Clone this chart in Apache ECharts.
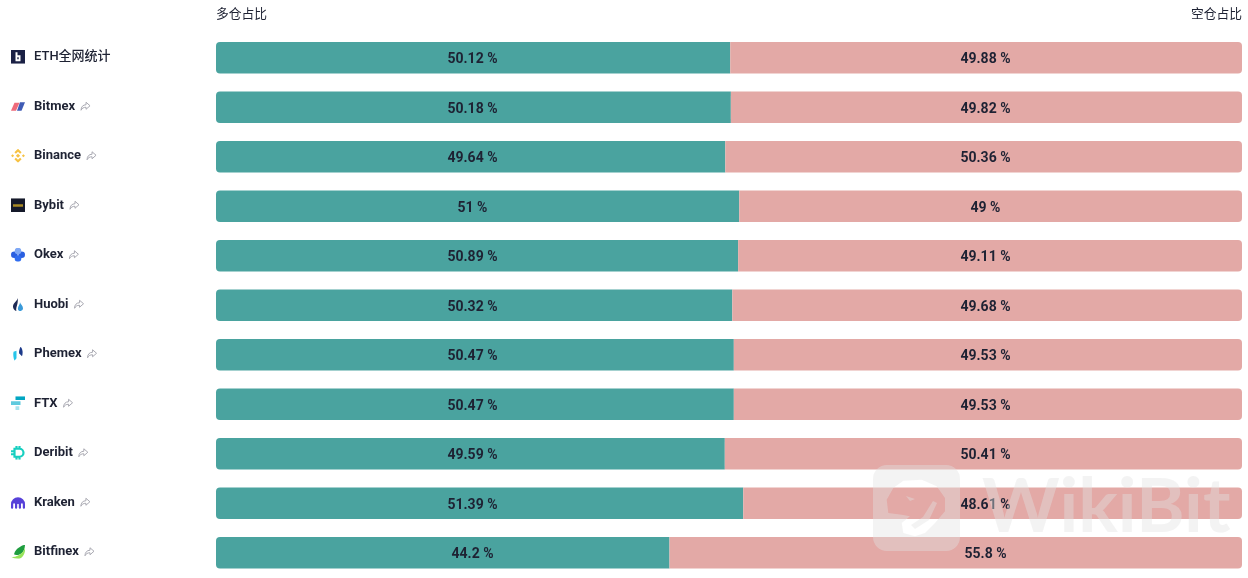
<!DOCTYPE html>
<html>
<head>
<meta charset="utf-8">
<style>html,body{margin:0;padding:0;background:#fff}#main{width:1248px;height:578px}</style>
<script src="https://cdn.jsdelivr.net/npm/echarts@6/dist/echarts.min.js"></script>
</head>
<body>
<div id="main"></div>
<script>
var exchanges = ['ETH全网统计', 'Bitmex', 'Binance', 'Bybit', 'Okex', 'Huobi', 'Phemex', 'FTX', 'Deribit', 'Kraken', 'Bitfinex'];
var longShare = [50.12, 50.18, 49.64, 51, 50.89, 50.32, 50.47, 50.47, 49.59, 51.39, 44.2];
var shortShare = [49.88, 49.82, 50.36, 49, 49.11, 49.68, 49.53, 49.53, 50.41, 48.61, 55.8];
var longTitle = '多仓占比';
var shortTitle = '空仓占比';

function svgUri(body, w, h) {
  var s = '<svg xmlns="http://www.w3.org/2000/svg" width="' + w + '" height="' + h + '" viewBox="0 0 ' + w + ' ' + h + '">' + body + '</svg>';
  return 'data:image/svg+xml;charset=utf-8,' + encodeURIComponent(s);
}

// 交易所小图标
var icons = [
  '<rect width="14" height="14" fill="#1a2045"/><path d="M4.500 2.500h2v3H9.500v6h-5z" fill="#fff"/><rect x="6.300" y="7.500" width="1.400" height="2" fill="#1a2045"/>',
  '<path d="M0 11.500L3.500 3.500h5L5 11.500z" fill="#ee6b7a"/><path d="M9 3h5l-3.500 8.500H6z" fill="#3f5bb5"/>',
  '<g fill="#f7c244"><path d="M7 0l3.600 3.600-1.500 1.500L7 3 4.900 5.100 3.400 3.600z"/><path d="M7 14l3.600-3.600-1.500-1.500L7 11 4.900 8.900 3.400 10.400z"/><rect x="5.500" y="5.500" width="3" height="3" transform="rotate(45 7 7)"/><rect x="0.500" y="5.900" width="2.200" height="2.200" transform="rotate(45 1.600 7)"/><rect x="11.300" y="5.900" width="2.200" height="2.200" transform="rotate(45 12.400 7)"/></g>',
  '<rect width="14" height="14" fill="#15192a"/><rect x="2" y="6" width="10" height="2.400" fill="#a98a25"/>',
  '<g><circle cx="3.300" cy="7" r="3.300" fill="#2a5fe0"/><circle cx="10.700" cy="7" r="3.300" fill="#2a5fe0"/><circle cx="7" cy="10.700" r="3.300" fill="#2f6cf0"/><circle cx="7" cy="3.300" r="3.300" fill="#7fa8f5"/></g>',
  '<path d="M6.500 0c1 3.500-4.500 5-4.500 9.500 0 2 1.500 3.500 3.500 4.500C4 10.500 8 6.500 6.500 0z" fill="#1f2a55"/><path d="M9 5c.5 2 3 3.500 3 6 0 1.500-1.200 2.500-3 3-1.800-.5-2.300-2-2-3.500C7.500 8.500 9 7 9 5z" fill="#3a9ad9"/>',
  '<path d="M2.500 5l3-1v7.500L3.500 14C2.300 11 2 8 2.500 5z" fill="#27c5ea"/><path d="M9.500 0c2.200 2 2.700 6 1.500 9.500L8 6.500C8 4 8.500 2 9.500 0z" fill="#1c3a8a"/>',
  '<rect x="4.500" y="0" width="9.500" height="3.800" fill="#02a6c2"/><rect x="0" y="5" width="9.500" height="3.800" fill="#5fcade"/><rect x="4.500" y="10" width="3.800" height="4" fill="#a8e3ee"/>',
  '<path d="M3.500 3h5a4 4 0 0 1 0 8h-5zM0 5.500h3.500M0 8.500h3.500M5.500 0v3M8.500 0v3M5.500 11v3M8.500 11v3" fill="none" stroke="#17cfc0" stroke-width="2.200"/>',
  '<path d="M0 9a7 7 0 0 1 14 0v3.500a1.100 1.100 0 0 1-2.200 0V9a.9.9 0 0 0-1.800 0v3.500a1.100 1.100 0 0 1-2.200 0V9a.9.9 0 0 0-1.600 0v3.500a1.100 1.100 0 0 1-2.200 0V9a.9.9 0 0 0-1.800 0v3.500a1.100 1.100 0 0 1-2.200 0z" fill="#5741d9"/>',
  '<path d="M14 0c0 3-1 7-4 9-3 2-6 1-7 .500C4 5 9 1 14 0z" fill="#1e9d3f"/><path d="M14 2c1 5-2 12-7 12-3 0-5-1-7-2 3 1 8-1 11-4 2-2 3-4 3-6z" fill="#97e35a"/>'
];
var shareIcon = '<path d="M6 1l4 3.500L6 8V6C3.500 6 2 7 1 9c0-3.500 2-5.500 5-5.500z" fill="none" stroke="#a9a9b2" stroke-width="1"/>';

var rich = {
  name: {fontFamily: 'Roboto', fontWeight: 'bold', fontSize: 13, color: '#1e2233', padding: [0, 5, 0, 9]},
  lead: {fontFamily: 'Roboto, "Noto Sans CJK SC"', fontWeight: 500, fontSize: 13, color: '#1e2233', padding: [0, 0, 0, 9]},
  share: {width: 11, height: 10, backgroundColor: {image: svgUri(shareIcon, 11, 10)}}
};
icons.forEach(function (body, i) {
  rich['ic' + i] = {width: 14, height: 14, backgroundColor: {image: svgUri(body, 14, 14)}};
});

var wmLogo = svgUri(
  '<path fill-rule="evenodd" fill="rgb(227,227,227)" fill-opacity="0.41" d="M14 0h59a14 14 0 0 1 14 14v58a14 14 0 0 1-14 14H14A14 14 0 0 1 0 72V14A14 14 0 0 1 14 0z' +
  'M13.700 34.700L20.300 23L30.300 15.700L48.700 14.700L63.700 21.300L72 33L72 46.300L62 58L52 68L42 71.300L30.300 68L28.700 58L37 51.300L28.700 49.700L15.300 48z' +
  'M33 31L42 34L37 36zM38 60L50 52L60 36L64 38L56 55L42 64z"/>', 87, 86);

function fixedLabels(values, x) {
  return values.map(function (v, i) { return [x, i, v]; });
}

var numberLabel = {
  show: true,
  position: 'inside',
  offset: [0, 2],
  fontFamily: 'Roboto',
  fontWeight: 'bold',
  fontSize: 14,
  color: '#1e2233',
  formatter: function (p) { return p.value[2] + ' %'; }
};

var chart = echarts.init(document.getElementById('main'));
chart.setOption({
  animation: false,
  backgroundColor: '#fff',
  title: [
    {text: longTitle, left: 216, top: 7, padding: 0, textStyle: {fontFamily: '"Noto Sans CJK SC"', fontWeight: 'normal', fontSize: 12.750, color: '#1e2233'}},
    {text: shortTitle, right: 6, top: 7, padding: 0, textStyle: {fontFamily: '"Noto Sans CJK SC"', fontWeight: 'normal', fontSize: 12.750, color: '#1e2233'}}
  ],
  grid: {left: 216, right: 6, top: 33, bottom: 0.500},
  xAxis: {type: 'value', min: 0, max: 100, show: false},
  yAxis: {
    type: 'category',
    inverse: true,
    data: exchanges,
    axisLine: {show: false},
    axisTick: {show: false},
    axisLabel: {
      align: 'left',
      margin: 205,
      padding: [0, 0, 2, 0],
      rich: rich,
      formatter: function (value, index) {
        if (index === 0) return '{ic0|}{lead|' + value + '}';
        return '{ic' + index + '|}{name|' + value + '}{share|}';
      }
    }
  },
  series: [
    {
      name: longTitle,
      type: 'bar',
      stack: 'share',
      barWidth: 31.500,
      data: longShare,
      itemStyle: {color: '#4aa39f', borderRadius: [4, 0, 0, 4]}
    },
    {
      name: shortTitle,
      type: 'bar',
      stack: 'share',
      barWidth: 31.500,
      data: shortShare,
      itemStyle: {color: '#e3a9a6', borderRadius: [0, 4, 4, 0]}
    },
    // 数字固定在两侧中间，不跟随柱子长度
    {type: 'scatter', symbolSize: 1, itemStyle: {color: 'transparent', opacity: 1}, data: fixedLabels(longShare, 25), label: numberLabel},
    {type: 'scatter', symbolSize: 1, itemStyle: {color: 'transparent', opacity: 1}, data: fixedLabels(shortShare, 75), label: numberLabel}
  ],
  graphic: [
    {type: 'image', x: 873, y: 465, z: 100, style: {image: wmLogo, width: 87, height: 86}},
    {type: 'text', x: 982, y: 508, z: 100, style: {text: 'WikiBit', fontFamily: 'Lato', fontWeight: 'bold', fontSize: 74, verticalAlign: 'middle', fill: 'rgba(227,227,227,0.41)'}}
  ]
});
</script>
</body>
</html>
